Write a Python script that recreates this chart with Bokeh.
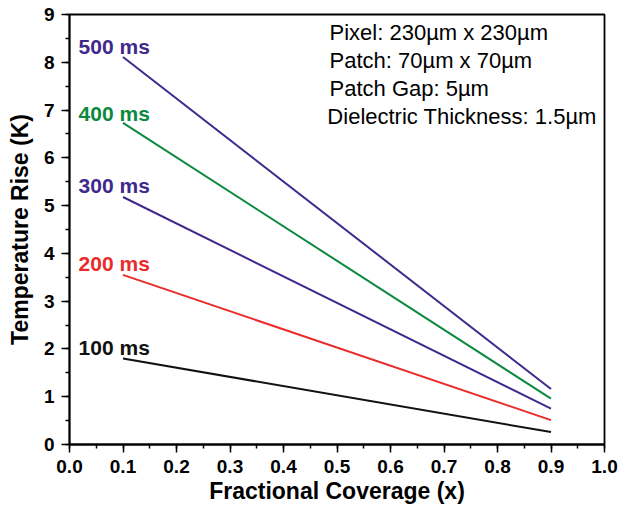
from bokeh.plotting import figure
from bokeh.models import Range1d, SingleIntervalTicker, PrintfTickFormatter, Label
from bokeh.embed import file_html
from bokeh.resources import INLINE

# Data
coverage = [0.1, 0.9]
rise_500 = [8.11, 1.16]
rise_400 = [6.73, 0.96]
rise_300 = [5.18, 0.75]
rise_200 = [3.55, 0.51]
rise_100 = [1.80, 0.26]
series_names = ["500 ms", "400 ms", "300 ms", "200 ms", "100 ms"]
info_lines = ["Pixel: 230\u00b5m x 230\u00b5m", "Patch: 70\u00b5m x 70\u00b5m",
              "Patch Gap: 5\u00b5m", "Dielectric Thickness: 1.5\u00b5m"]

PURPLE = "#40298c"
GREEN = "#0b8a3e"
RED = "#ea2b2b"
BLACK = "#111111"
colors = [PURPLE, GREEN, PURPLE, RED, BLACK]
series = [rise_500, rise_400, rise_300, rise_200, rise_100]
label_y = [8.33, 6.93, 5.43, 3.78, 2.02]

FONT = "Liberation Sans"

p = figure(width=620, height=506, output_backend="svg", toolbar_location=None,
           x_range=Range1d(0, 1), y_range=Range1d(0, 9),
           min_border_left=69, min_border_right=16, min_border_top=14, min_border_bottom=61)
p.background_fill_color = "white"
p.border_fill_color = "white"
p.outline_line_color = "black"
p.outline_line_width = 1.8
p.xgrid.visible = False
p.ygrid.visible = False

for ys, c in zip(series, colors):
    p.line(coverage, ys, line_color=c, line_width=2)

for name, c, ly in zip(series_names, colors, label_y):
    p.add_layout(Label(x=0.017, y=ly, text=name, text_color=c, text_font=FONT,
                       text_font_size="21px", text_font_style="bold",
                       text_baseline="middle"))

info_x = [0.486, 0.486, 0.486, 0.482]
info_y = [8.62, 8.04, 7.45, 6.87]
for t, ix, iy in zip(info_lines, info_x, info_y):
    p.add_layout(Label(x=ix, y=iy, text=t, text_color="black", text_font=FONT,
                       text_font_size="22px", text_baseline="middle"))

p.xaxis.ticker = SingleIntervalTicker(interval=0.1, num_minor_ticks=2)
p.yaxis.ticker = SingleIntervalTicker(interval=1, num_minor_ticks=2)
p.xaxis.formatter = PrintfTickFormatter(format="%.1f")
p.yaxis.formatter = PrintfTickFormatter(format="%d")

for ax in (p.xaxis[0], p.yaxis[0]):
    ax.axis_line_color = "black"
    ax.axis_line_width = 1.8
    ax.major_tick_line_color = "black"
    ax.major_tick_line_width = 1.5
    ax.minor_tick_line_color = "black"
    ax.minor_tick_line_width = 1.5
    ax.major_tick_out = 8
    ax.major_tick_in = 0
    ax.minor_tick_out = 4
    ax.minor_tick_in = 0
    ax.major_label_text_font = FONT
    ax.major_label_text_font_style = "bold"
    ax.major_label_text_font_size = "19px"
    ax.major_label_text_color = "black"
    ax.major_label_standoff = 7
    ax.axis_label_text_font = FONT
    ax.axis_label_text_font_style = "bold"
    ax.axis_label_text_font_size = "23px"
    ax.axis_label_text_color = "black"

p.xaxis.axis_label_standoff = 2
p.yaxis.axis_label_standoff = 8
p.xaxis.axis_label = "Fractional Coverage (x)"
p.yaxis.axis_label = "Temperature Rise (K)"

open("out.html", "w").write(file_html(p, INLINE))
